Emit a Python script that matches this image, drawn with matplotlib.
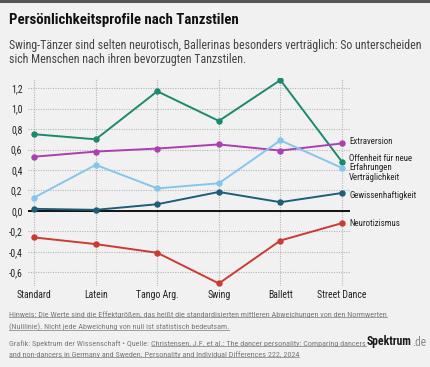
import matplotlib
matplotlib.use("Agg")
import matplotlib.pyplot as plt
from matplotlib import font_manager

styles = ["Standard", "Latein", "Tango Arg.", "Swing", "Ballett", "Street Dance"]
offenheit = [0.75, 0.70, 1.17, 0.88, 1.28, 0.48]
extraversion = [0.53, 0.58, 0.61, 0.65, 0.59, 0.66]
vertraeglichkeit = [0.13, 0.45, 0.22, 0.27, 0.69, 0.42]
gewissenhaftigkeit = [0.02, 0.01, 0.065, 0.185, 0.085, 0.175]
neurotizismus = [-0.26, -0.325, -0.41, -0.71, -0.29, -0.12]
y_ticks = [-0.6, -0.4, -0.2, 0.0, 0.2, 0.4, 0.6, 0.8, 1.0, 1.2]

names = [f.name for f in font_manager.fontManager.ttflist]
cond = "Roboto Condensed" if "Roboto Condensed" in names else (
    "Liberation Sans Narrow" if "Liberation Sans Narrow" in names else "Roboto")
plt.rcParams['font.family'] = [cond, 'DejaVu Sans']

W, H = 430, 367
bg = "#f1f1f1"
fig = plt.figure(figsize=(W / 100, H / 100), dpi=100, facecolor=bg)

def fx(x): return x / W
def fy(y): return 1 - y / H

# top border
fig.add_artist(plt.Line2D([0, 1], [fy(1), fy(1)], color="#555555", lw=2.2))

fig.text(fx(9), fy(20), "Persönlichkeitsprofile nach Tanzstilen", fontsize=10.7,
         fontweight="bold", color="#111111", va="center")
fig.text(fx(9), fy(45), "Swing-Tänzer sind selten neurotisch, Ballerinas besonders verträglich: So unterscheiden",
         fontsize=8.6, color="#444444", va="center")
fig.text(fx(9), fy(60), "sich Menschen nach ihren bevorzugten Tanzstilen.",
         fontsize=8.6, color="#444444", va="center")

ax = fig.add_axes([fx(28), fy(286), (350 - 28) / W, (286 - 78) / H])
ax.set_facecolor(bg)
x = list(range(len(styles)))
ax.set_xlim(-0.1, 5.13)
ax.set_ylim(-0.735, 1.3)

series = [
    (offenheit, "#1a8a6c", ["Offenheit für neue", "Erfahrungen"], [158.5, 168]),
    (extraversion, "#ab3fb0", ["Extraversion"], [141]),
    (vertraeglichkeit, "#86c6ec", ["Verträglichkeit"], [177.5]),
    (gewissenhaftigkeit, "#1e5e78", ["Gewissenhaftigkeit"], [195]),
    (neurotizismus, "#c93b33", ["Neurotizismus"], [224]),
]
for vals, col, labs, lys in series:
    ax.plot(x, vals, color=col, lw=1.4, marker="o", markersize=3.6, zorder=3)

for vals, col, labs, lys in series:
    for lab, ly in zip(labs, lys):
        fig.text(fx(349), fy(ly), lab, fontsize=6.4, color="#222222", va="center")

ax.axhline(0, color="#111111", lw=1.4, zorder=2)
ax.set_yticks(y_ticks)
ax.set_yticklabels([f"{v:.1f}".replace(".", ",") for v in y_ticks])
ax.set_xticks(x)
ax.set_xticklabels(styles)
ax.grid(True, color="#b5b5b5", ls=(0, (1, 1.2)), lw=0.8)
ax.tick_params(length=0, labelsize=7, colors="#222222", pad=4)
ax.tick_params(axis="x", pad=3)
for s in ax.spines.values():
    s.set_visible(False)

note_col = "#7a7a7a"
fs = 5.85
t_objs = []
def ftext(xp, yp, s, ul):
    t = fig.text(fx(xp), fy(yp), s, fontsize=fs, color=note_col, va="center")
    t_objs.append((t, ul))
    return t

ftext(9, 315, "Hinweis: Die Werte sind die Effektgrößen, das heißt die standardisierten mittleren Abweichungen von den Normwerten", True)
ftext(9, 327, "(Nulllinie). Nicht jede Abweichung von null ist statistisch bedeutsam.", True)
g1 = ftext(9, 344, "Grafik: Spektrum der Wissenschaft • Quelle: ", False)
ftext(9, 355, "and non-dancers in Germany and Sweden. Personality and Individual Differences 222, 2024", True)

fig.canvas.draw()
r = fig.canvas.get_renderer()
bb = g1.get_window_extent(r)
ftext(bb.x1 + 0.5, 344, "Christensen, J.F. et al.: The dancer personality: Comparing dancers", True)
fig.canvas.draw()
for t, ul in t_objs:
    if not ul:
        continue
    b = t.get_window_extent(r)
    yline = b.y0 + 1.0
    fig.add_artist(plt.Line2D([b.x0 / W, b.x1 / W], [yline / H, yline / H],
                              color=note_col, lw=0.5))

sp = fig.text(fx(367), fy(342), "Spektrum", fontsize=8.4, fontweight="bold",
              color="#1a1a1a", va="center")
fig.canvas.draw()
sb = sp.get_window_extent(r)
fig.text(sb.x1 / W, fy(342), ".de", fontsize=8.4, color="#8a8a8a", va="center")

fig.savefig("out.png", dpi=100, facecolor=bg)
